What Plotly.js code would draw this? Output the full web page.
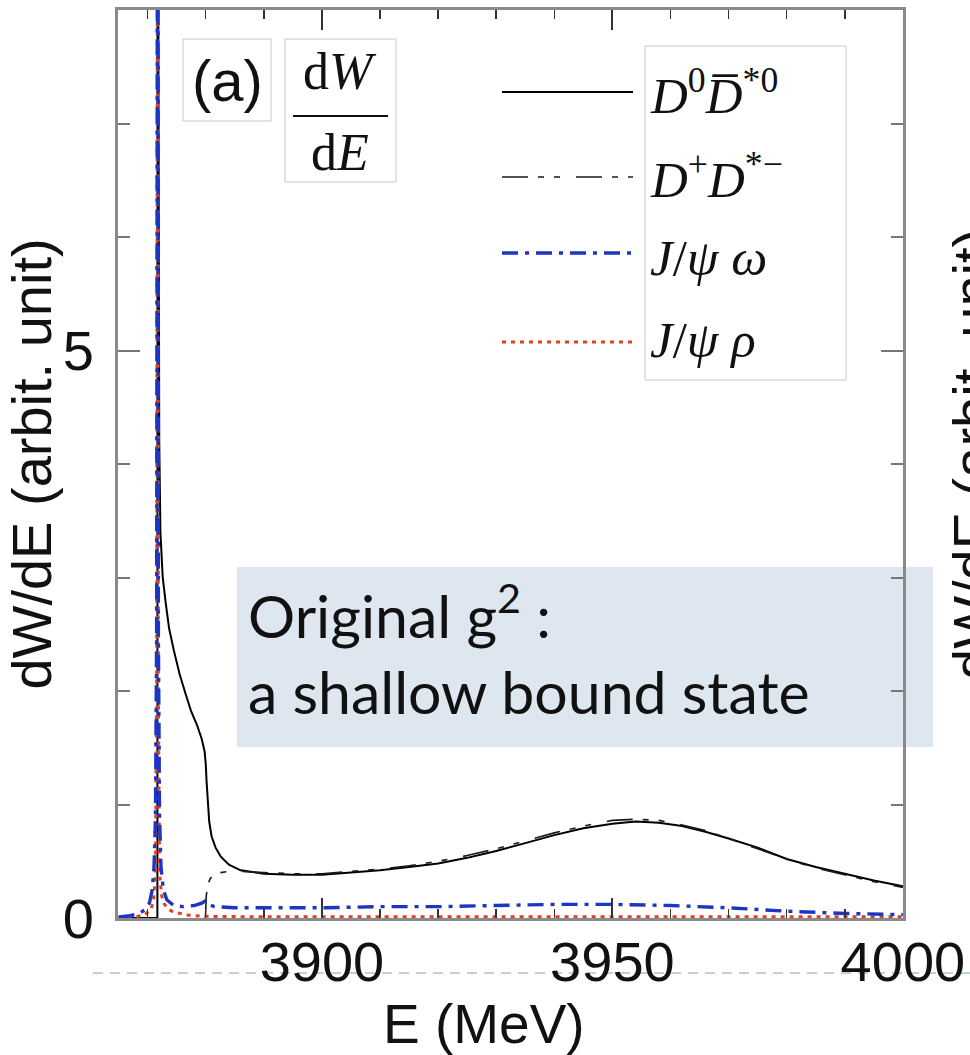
<!DOCTYPE html>
<html>
<head>
<meta charset="utf-8">
<script src="https://cdn.plot.ly/plotly-3.0.1.min.js"></script>
<style>html,body{margin:0;padding:0;background:#fff;}#chart{width:970px;height:1055px;}</style>
</head>
<body>
<div id="chart"></div>
<script>
// ---- data ----
// D0 anti-D*0 (solid black)
const E_d0 = [3865, 3871.68, 3871.72, 3871.8, 3871.9, 3872.0, 3872.2, 3872.6, 3873.1, 3873.7, 3874.5, 3875.5, 3876.5, 3877.5, 3878.5, 3879.3, 3879.8, 3880.0, 3880.15, 3880.35, 3880.6, 3881.0, 3881.7, 3882.6, 3884, 3886, 3890, 3895, 3900, 3905, 3910, 3915, 3920, 3925, 3930, 3935, 3940, 3945, 3950, 3954, 3958, 3962, 3966, 3970, 3975, 3980, 3985, 3990, 3995, 4000];
const W_d0 = [0, 0, 11, 7.5, 5.2, 4.2, 3.4, 3.0, 2.78, 2.55, 2.36, 2.15, 1.98, 1.82, 1.70, 1.58, 1.47, 1.36, 1.2, 1.0, 0.85, 0.72, 0.62, 0.54, 0.47, 0.42, 0.39, 0.38, 0.38, 0.40, 0.42, 0.45, 0.48, 0.53, 0.59, 0.66, 0.73, 0.79, 0.83, 0.85, 0.84, 0.81, 0.76, 0.70, 0.62, 0.52, 0.45, 0.39, 0.33, 0.28];
// D+ D*- (black dash-dot)
const E_dp = [3879.95, 3880.1, 3880.4, 3880.8, 3881.5, 3882.5, 3884, 3886, 3890, 3895, 3900, 3905, 3910, 3915, 3920, 3925, 3930, 3935, 3940, 3945, 3950, 3954, 3958, 3962, 3966, 3970, 3975, 3980, 3985, 3990, 3995, 4000];
const W_dp = [0, 0.2, 0.3, 0.35, 0.38, 0.40, 0.41, 0.41, 0.40, 0.39, 0.39, 0.41, 0.43, 0.46, 0.50, 0.55, 0.61, 0.68, 0.75, 0.81, 0.86, 0.87, 0.86, 0.82, 0.77, 0.70, 0.61, 0.52, 0.44, 0.38, 0.32, 0.27];
// J/psi omega (blue dash-dot)
const E_om = [3865, 3867, 3868.5, 3869.5, 3870.3, 3870.8, 3871.1, 3871.35, 3871.55, 3871.65, 3871.75, 3871.85, 3872.05, 3872.3, 3872.7, 3873.3, 3874.5, 3876, 3878, 3879.3, 3879.9, 3880.3, 3881.5, 3885, 3890, 3900, 3910, 3920, 3930, 3940, 3950, 3960, 3970, 3980, 3990, 4000];
const W_om = [0.01, 0.02, 0.04, 0.07, 0.13, 0.25, 0.45, 0.9, 2.5, 12, 12, 2.5, 0.9, 0.45, 0.25, 0.16, 0.11, 0.10, 0.11, 0.13, 0.15, 0.12, 0.10, 0.09, 0.09, 0.09, 0.10, 0.10, 0.11, 0.12, 0.12, 0.11, 0.09, 0.06, 0.04, 0.03];
// J/psi rho (red dotted)
const E_rho = [3865, 3868, 3869.5, 3870.5, 3871.0, 3871.35, 3871.55, 3871.65, 3871.75, 3871.85, 3872.05, 3872.4, 3872.8, 3873.5, 3874.5, 3875.7, 3877, 3880, 3890, 3920, 3950, 3980, 4000];
const W_rho = [0.005, 0.01, 0.03, 0.07, 0.14, 0.4, 2, 12, 12, 2, 0.4, 0.2, 0.13, 0.08, 0.05, 0.04, 0.025, 0.015, 0.01, 0.01, 0.01, 0.01, 0.01];

const seriesNames = ['D⁰D̄*⁰', 'D⁺D*⁻', 'J/ψω', 'J/ψρ'];
const legendLabels = [
  '<i>D</i><sup>0</sup><i>D̅</i><sup>*0</sup>',
  '<i>D</i><sup>+</sup><i>D</i><sup>*−</sup>',
  '<i>J</i>/<i>ψ ω</i>',
  '<i>J</i>/<i>ψ ρ</i>'
];
const xTitle = 'E (MeV)';
const yTitle = 'dW/dE (arbit. unit)';
const panelLabel = '(a)';
const noteText = 'Original g<sup>2</sup> :<br>a shallow bound state';

// ---- styles ----
const colors = ['#000000', '#1a1a1a', '#1c35c2', '#e0401f'];
const widths = [2, 1.6, 3.4, 3];
const dashes = ['solid', '26px,10px,6px,10px,6px,16px', '16px,7px,4px,7px', '4px,5px'];

// pixel -> paper helpers for decorations
const L = 118, R = 903, T = 10, B = 918;
const px = x => (x - L) / (R - L);
const py = y => (B - y) / (B - T);

const traces = [
  {x: E_d0, y: W_d0},
  {x: E_dp, y: W_dp},
  {x: E_rho, y: W_rho},
  {x: E_om, y: W_om}
];
const order = [0, 1, 3, 2];
traces.forEach((t, k) => {
  const i = order[k];
  t.type = 'scatter';
  t.mode = 'lines';
  t.name = seriesNames[i];
  t.showlegend = false;
  t.hoverinfo = 'skip';
  t.line = {color: colors[i], width: widths[i], dash: dashes[i]};
});

const sans = 'Liberation Sans, Arial, sans-serif';
const serif = 'Liberation Serif, DejaVu Serif, serif';

const shapes = [];
const annotations = [];

// panel label box "(a)"
shapes.push({type:'rect', xref:'paper', yref:'paper', x0:px(183), x1:px(271), y0:py(39), y1:py(121), line:{color:'#c8c8c8', width:1}, fillcolor:'rgba(0,0,0,0)'});
annotations.push({xref:'paper', yref:'paper', x:px(227), y:py(80), text:panelLabel, showarrow:false, xanchor:'center', yanchor:'middle', font:{family:sans, size:58, color:'#111'}});
// dW/dE fraction box
shapes.push({type:'rect', xref:'paper', yref:'paper', x0:px(285), x1:px(396), y0:py(39), y1:py(182), line:{color:'#c8c8c8', width:1}, fillcolor:'rgba(0,0,0,0)'});
shapes.push({type:'line', xref:'paper', yref:'paper', x0:px(293), x1:px(388), y0:py(116), y1:py(116), line:{color:'#111', width:2}});
annotations.push({xref:'paper', yref:'paper', x:px(340), y:py(72), text:'d<i>W</i>', showarrow:false, xanchor:'center', yanchor:'middle', font:{family:serif, size:52, color:'#111'}});
annotations.push({xref:'paper', yref:'paper', x:px(340), y:py(152), text:'d<i>E</i>', showarrow:false, xanchor:'center', yanchor:'middle', font:{family:serif, size:52, color:'#111'}});

// legend (samples outside, labels inside a box)
shapes.push({type:'rect', xref:'paper', yref:'paper', x0:px(645), x1:px(846), y0:py(46), y1:py(380), line:{color:'#c8c8c8', width:1}, fillcolor:'rgba(0,0,0,0)'});
const rowY = [92, 177, 253, 342];
const labelY = [92, 176, 258, 340];
rowY.forEach((y, i) => {
  shapes.push({type:'line', xref:'paper', yref:'paper', x0:px(502), x1:px(633), y0:py(y), y1:py(y), line:{color:colors[i], width:widths[i], dash:dashes[i]}});
  annotations.push({xref:'paper', yref:'paper', x:px(648), y:py(labelY[i]), text:legendLabels[i], showarrow:false, xanchor:'left', yanchor:'middle', font:{family:serif, size:51, color:'#111'}});
});

// note box
shapes.push({type:'rect', xref:'paper', yref:'paper', layer:'below', x0:px(237), x1:px(933), y0:py(567), y1:py(747), line:{width:0}, fillcolor:'#dee6ef'});
annotations.push({xref:'paper', yref:'paper', x:px(246), y:py(650), text:noteText, showarrow:false, xanchor:'left', yanchor:'middle', align:'left', font:{family:'Lato, Carlito, Calibri, sans-serif', size:59, color:'#111'}});

// dashed slide guide line
shapes.push({type:'line', xref:'paper', yref:'paper', layer:'below', x0:px(93), x1:px(975), y0:py(973), y1:py(973), line:{color:'#a9c1d8', width:1.5, dash:'10px,7px'}});

// x-axis title (placed as in the reference, slightly left of centre)
annotations.push({xref:'paper', yref:'paper', x:px(484), y:py(1024), text:xTitle, showarrow:false, xanchor:'center', yanchor:'middle', font:{family:sans, size:55, color:'#111'}});

// partial y-title of the neighbouring panel (cut at the right edge)
annotations.push({xref:'paper', yref:'paper', x:px(972), y:py(455), text:yTitle, textangle:-90, showarrow:false, xanchor:'center', yanchor:'middle', font:{family:sans, size:56, color:'#111'}});

const layout = {
  width: 970, height: 1055,
  margin: {l: L, r: 970 - R, t: T, b: 1055 - B, pad: 0},
  paper_bgcolor: '#ffffff', plot_bgcolor: '#ffffff',
  showlegend: false,
  xaxis: {
    range: [3864.9, 4000.02], tickmode: 'linear', tick0: 3900, dtick: 50,
    ticks: 'inside', ticklen: 20, tickwidth: 2, tickcolor: '#333',
    minor: {tickmode:'linear', tick0: 3900, dtick: 10, ticks: 'inside', ticklen: 9, tickwidth: 1.5, tickcolor: '#333', showgrid: false},
    showline: true, linecolor: '#8a8a8a', linewidth: 3, mirror: 'ticks',
    showgrid: false, zeroline: false,
    tickfont: {family: sans, size: 56, color: '#111'},
    ticklabelstandoff: -7
  },
  yaxis: {
    range: [0, 8], tickmode: 'linear', tick0: 0, dtick: 5,
    ticks: 'inside', ticklen: 22, tickwidth: 2, tickcolor: '#777',
    minor: {tickmode:'linear', tick0: 0, dtick: 1, ticks: 'inside', ticklen: 12, tickwidth: 2, tickcolor: '#777', showgrid: false},
    showline: true, linecolor: '#8a8a8a', linewidth: 3, mirror: 'ticks',
    showgrid: false, zeroline: false,
    tickfont: {family: sans, size: 56, color: '#111'},
    ticklabelstandoff: 10,
    title: {text: yTitle, font: {family: sans, size: 56, color: '#111'}, standoff: 4}
  },
  shapes: shapes,
  annotations: annotations
};

Plotly.newPlot('chart', traces, layout, {displayModeBar: false, staticPlot: true});
</script>
</body>
</html>
